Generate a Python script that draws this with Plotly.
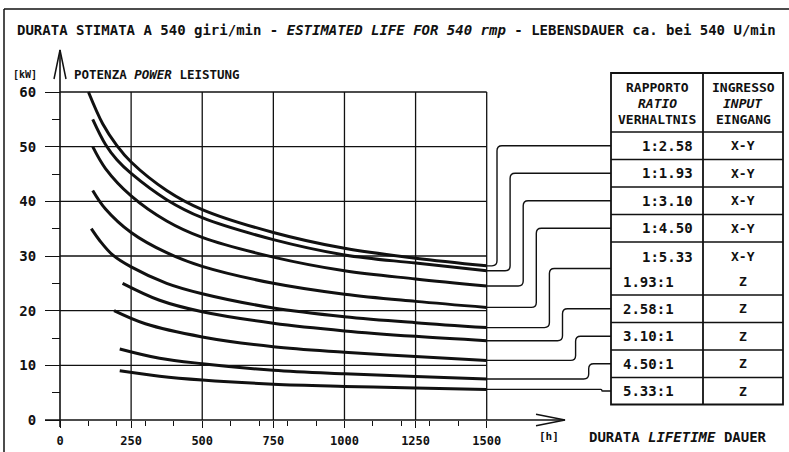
import plotly.graph_objects as go

# ---------------- data ----------------
ratio_labels = ["1:2.58", "1:1.93", "1:3.10", "1:4.50", "1:5.33",
                "1.93:1", "2.58:1", "3.10:1", "4.50:1", "5.33:1"]
input_labels = ["X-Y", "X-Y", "X-Y", "X-Y", "X-Y", "Z", "Z", "Z", "Z", "Z"]

hours_a = [100, 150, 200, 250, 375, 500, 750, 1000, 1250, 1500]
power_a = [60, 54.2, 50.2, 47.2, 42.0, 38.5, 34.3, 31.4, 29.6, 28.2]
hours_b = [115, 160, 200, 250, 375, 500, 750, 1000, 1250, 1500]
power_b = [55, 50.4, 47.6, 45.1, 40.3, 37.0, 33.0, 30.2, 28.7, 27.3]
hours_c = [115, 160, 250, 375, 500, 750, 1000, 1250, 1500]
power_c = [50, 46.0, 41.0, 36.4, 33.4, 29.8, 27.3, 25.8, 24.5]
hours_d = [115, 160, 250, 375, 500, 750, 1000, 1250, 1500]
power_d = [42, 38.6, 34.3, 30.6, 28.1, 25.0, 23.0, 21.7, 20.6]
hours_e = [110, 140, 185, 250, 375, 500, 750, 1000, 1250, 1500]
power_e = [35, 32.8, 30.2, 28.0, 25.0, 23.1, 20.5, 18.9, 17.8, 16.9]
hours_f = [220, 350, 500, 750, 1000, 1250, 1500]
power_f = [25, 21.9, 19.8, 17.7, 16.3, 15.3, 14.5]
hours_g = [190, 300, 500, 750, 1000, 1250, 1500]
power_g = [20, 17.6, 15.2, 13.4, 12.4, 11.6, 10.9]
hours_h = [210, 350, 500, 750, 1000, 1250, 1500]
power_h = [13, 11.3, 10.3, 9.1, 8.45, 7.95, 7.5]
hours_i = [210, 350, 500, 750, 1000, 1250, 1500]
power_i = [9, 8.0, 7.3, 6.55, 6.15, 5.85, 5.6]

x_ticks = [0, 250, 500, 750, 1000, 1250, 1500]
x_minor = [100, 200, 300, 400, 600, 700, 800, 900, 1100, 1200, 1300, 1400]
y_ticks = [0, 10, 20, 30, 40, 50, 60]
y_minor = [5, 15, 25, 35, 45, 55]

curves = [(hours_a, power_a), (hours_b, power_b), (hours_c, power_c),
          (hours_d, power_d), (hours_e, power_e), (hours_f, power_f),
          (hours_g, power_g), (hours_h, power_h), (hours_i, power_i)]
# table row reached by each curve (row 4 is the merged 1:5.33 / 1.93:1 cell)
curve_row = [0, 1, 2, 3, 4, 5, 6, 7, 8]

# ---------------- layout geometry ----------------
W, H = 789, 452
L, R, T, B = 40, 570, 45, 430
X0, X1500 = 60.0, 486.7
Y0, Y60 = 420.0, 92.0
kx = (X1500 - X0) / 1500.0
ky = (Y0 - Y60) / 60.0
xr = [(L - X0) / kx, (R - X0) / kx]
yr = [(Y0 - B) / ky, (Y0 - T) / ky]

def pxp(xp):  # pixel -> paper x
    return (xp - L) / (R - L)

def pyp(yp):  # pixel -> paper y
    return (B - yp) / (B - T)

def ydat(yp):  # pixel -> data y
    return yr[0] + (B - yp) / (B - T) * (yr[1] - yr[0])

def xdat(xp):
    return xr[0] + (xp - L) / (R - L) * (xr[1] - xr[0])

FONT = "DejaVu Sans Mono, Liberation Mono, monospace"
INK = "#111111"
WT = "bold"

fig = go.Figure()
for hx, pw in curves:
    fig.add_trace(go.Scatter(x=hx, y=pw, mode="lines",
                             line=dict(color=INK, width=3, shape="spline", smoothing=1.0),
                             hoverinfo="skip", showlegend=False))

shapes = []
# grid (inside 0..1500 h, 0..60 kW)
for v in x_ticks[1:]:
    shapes.append(dict(type="line", xref="x", yref="y", x0=v, x1=v, y0=0, y1=y_ticks[-1],
                       line=dict(color=INK, width=1.3)))
for v in y_ticks[1:]:
    shapes.append(dict(type="line", xref="x", yref="y", x0=0, x1=x_ticks[-1], y0=v, y1=v,
                       line=dict(color=INK, width=1.3)))
# axes with arrows
x_tip = xdat(565)
y_tip = ydat(50)
shapes.append(dict(type="line", xref="x", yref="y", x0=xdat(45), x1=x_tip, y0=0, y1=0,
                   line=dict(color=INK, width=1.6)))
shapes.append(dict(type="line", xref="x", yref="y", x0=0, x1=0, y0=ydat(427), y1=y_tip,
                   line=dict(color=INK, width=1.6)))
ax_len, ax_w = 29 / kx, 5.7 / ky
shapes.append(dict(type="path", xref="x", yref="y",
                   path=f"M {x_tip-ax_len},{ax_w} L {x_tip},0 L {x_tip-ax_len},{-ax_w}",
                   line=dict(color=INK, width=1.5)))
ay_len, ay_w = 29 / ky, 6.0 / kx
shapes.append(dict(type="path", xref="x", yref="y",
                   path=f"M {-ay_w},{y_tip-ay_len} L 0,{y_tip} L {ay_w},{y_tip-ay_len}",
                   line=dict(color=INK, width=1.5)))

# ---------------- table ----------------
tl, tm, tr = 611, 703, 783
t_top, t_head = 73, 132
row_lines = [t_head, 159.5, 187, 214.5, 242, 295, 322.5, 350, 377.5, 404.5]
shapes.append(dict(type="rect", xref="paper", yref="paper", x0=pxp(tl), x1=pxp(tr),
                   y0=pyp(row_lines[-1]), y1=pyp(t_top), line=dict(color=INK, width=1.8)))
shapes.append(dict(type="line", xref="paper", yref="paper", x0=pxp(tm), x1=pxp(tm),
                   y0=pyp(row_lines[-1]), y1=pyp(t_top), line=dict(color=INK, width=1.8)))
for yl in row_lines[:-1]:
    shapes.append(dict(type="line", xref="paper", yref="paper", x0=pxp(tl), x1=pxp(tr),
                       y0=pyp(yl), y1=pyp(yl), line=dict(color=INK, width=1.6)))
row_centers = [(row_lines[i] + row_lines[i + 1]) / 2 for i in range(len(row_lines) - 1)]

# connectors from curve ends to the table rows
rx = 5.0 / (R - L)
ry = 5.0 / ky
for k, (hx, pw) in enumerate(curves):
    xs = (hx[-1] - xr[0]) / (xr[1] - xr[0])
    ye = pw[-1]
    yrow = ydat(row_centers[curve_row[k]])
    vx = pxp(497 + 13.1 * k)
    xt = pxp(tl)
    d = abs(yrow - ye)
    sg = 1 if yrow > ye else -1
    if d < 1e-6:
        path = f"M {xs},{ye} L {xt},{ye}"
    else:
        r_y = min(ry, d / 2)
        r_x = rx * r_y / ry
        path = (f"M {xs},{ye} L {vx-r_x},{ye} Q {vx},{ye} {vx},{ye+sg*r_y} "
                f"L {vx},{yrow-sg*r_y} Q {vx},{yrow} {vx+r_x},{yrow} L {xt},{yrow}")
    shapes.append(dict(type="path", xref="paper", yref="y", path=path,
                       line=dict(color=INK, width=1.4)))

# figure border (top and left)
shapes.append(dict(type="line", xref="paper", yref="paper", x0=pxp(4), x1=pxp(789),
                   y0=pyp(9), y1=pyp(9), line=dict(color=INK, width=1.5)))
shapes.append(dict(type="line", xref="paper", yref="paper", x0=pxp(4), x1=pxp(4),
                   y0=pyp(9), y1=pyp(452), line=dict(color=INK, width=1.5)))

annotations = []

def ann(text, xp, yp, size, xanchor="center", color=INK):
    annotations.append(dict(text=text, x=pxp(xp), y=pyp(yp), xref="paper", yref="paper",
                            xanchor=xanchor, yanchor="middle", showarrow=False,
                            font=dict(family=FONT, size=size, color=color, weight=WT)))

ann("DURATA STIMATA A 540 giri/min - <i>ESTIMATED LIFE FOR 540 rmp</i> - LEBENSDAUER ca. bei 540 U/min",
    15, 30, 14, "left")
ann("[kW]", 25, 74, 10)
ann("POTENZA <i>POWER</i> LEISTUNG", 72, 74, 12.5, "left")
ann("[h]", 549, 437, 11)
ann("DURATA <i>LIFETIME</i> DAUER", 587, 437, 14, "left")

# header
ann("RAPPORTO", (tl + tm) / 2, 87, 13)
ann("<i>RATIO</i>", (tl + tm) / 2, 103.5, 13)
ann("VERHALTNIS", (tl + tm) / 2, 120, 13)
ann("INGRESSO", (tm + tr) / 2, 87, 13)
ann("<i>INPUT</i>", (tm + tr) / 2, 103.5, 13)
ann("EINGANG", (tm + tr) / 2, 120, 13)

# rows
label_y = [row_centers[0], row_centers[1], row_centers[2], row_centers[3],
           row_lines[4] + 14.5, row_lines[5] - 13.5,
           row_centers[5], row_centers[6], row_centers[7], row_centers[8]]
for lab, inp, yy in zip(ratio_labels, input_labels, label_y):
    if lab.startswith("1:"):
        ann(lab, 695, yy, 14, "right")
    else:
        ann(lab, 621, yy, 14, "left")
    ann(inp, (tm + tr) / 2, yy, 13)

fig.update_layout(
    width=W, height=H, autosize=False,
    margin=dict(l=L, r=W - R, t=T, b=H - B, pad=0, autoexpand=False),
    paper_bgcolor="white", plot_bgcolor="white",
    shapes=shapes, annotations=annotations,
    xaxis=dict(range=xr, anchor="free", position=pyp(Y0), showline=False, showgrid=False,
               zeroline=False, automargin=False, tickmode="array", tickvals=x_ticks,
               ticktext=[str(v) for v in x_ticks], ticks="outside", ticklen=7,
               tickwidth=1.4, tickcolor=INK, ticklabelstandoff=3,
               tickfont=dict(family=FONT, size=12, color=INK, weight=WT),
               minor=dict(tickmode="array", tickvals=x_minor, ticks="outside", ticklen=5,
                          tickwidth=1.3, tickcolor=INK, showgrid=False)),
    yaxis=dict(range=yr, anchor="free", position=pxp(X0), showline=False, showgrid=False,
               zeroline=False, automargin=False, tickmode="array", tickvals=y_ticks,
               ticktext=[str(v) for v in y_ticks], ticks="outside", ticklen=15,
               tickwidth=1.4, tickcolor=INK, ticklabelstandoff=6,
               tickfont=dict(family=FONT, size=14, color=INK, weight=WT),
               minor=dict(tickmode="array", tickvals=y_minor, ticks="outside", ticklen=8,
                          tickwidth=1.3, tickcolor=INK, showgrid=False)),
)

fig.write_html("out.html", config={"responsive": False, "displayModeBar": False},
               post_script="document.body.style.margin='0';document.body.style.overflow='hidden';")
